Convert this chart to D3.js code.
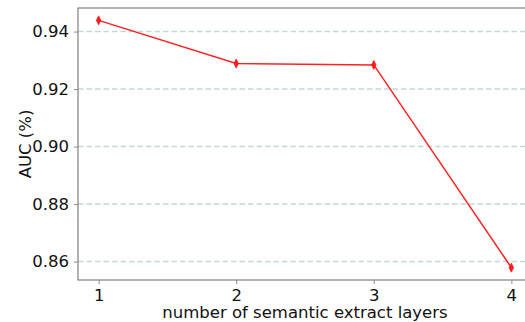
<!DOCTYPE html>
<html>
<head>
<meta charset="utf-8">
<script src="https://cdn.jsdelivr.net/npm/d3@7"></script>
<style>
  html, body { margin: 0; padding: 0; background: #fff; }
  svg { display: block; font-family: "DejaVu Sans", sans-serif; }
</style>
</head>
<body>
<svg id="chart" width="525" height="322"></svg>
<script>
// Number of semantic extraction layers vs. AUC
const layers = [1, 2, 3, 4];
const auc = [0.9439, 0.9289, 0.9284, 0.8579];
const yTicks = [0.86, 0.88, 0.90, 0.92, 0.94];
const xTicks = [1, 2, 3, 4];

const svg = d3.select("#chart");
const plot = { left: 78, top: 8, right: 532, bottom: 280 };

const x = d3.scaleLinear().domain([0.85, 4.15]).range([plot.left, plot.right]);
const y = d3.scaleLinear().domain([0.8536, 0.9482]).range([plot.bottom, plot.top]);

const axisColor = "#8a8a8a";
const textColor = "#111";

// horizontal dashed grid
svg.append("g")
  .selectAll("line")
  .data(yTicks)
  .join("line")
  .attr("x1", plot.left).attr("x2", plot.right)
  .attr("y1", d => y(d)).attr("y2", d => y(d))
  .attr("stroke", "#c8d8d8")
  .attr("stroke-width", 1.5)
  .attr("stroke-dasharray", "5.5,3");

// frame
svg.append("rect")
  .attr("x", plot.left).attr("y", plot.top)
  .attr("width", plot.right - plot.left).attr("height", plot.bottom - plot.top)
  .attr("fill", "none").attr("stroke", axisColor).attr("stroke-width", 1.3);

// axes
const xAxis = svg.append("g")
  .attr("transform", `translate(0,${plot.bottom})`)
  .call(d3.axisBottom(x).tickValues(xTicks).tickFormat(d3.format("d")).tickSizeOuter(0).tickSize(4).tickPadding(5));
const yAxis = svg.append("g")
  .attr("transform", `translate(${plot.left},0)`)
  .call(d3.axisLeft(y).tickValues(yTicks).tickFormat(d3.format(".2f")).tickSizeOuter(0).tickSize(4).tickPadding(5));

[xAxis, yAxis].forEach(g => {
  g.select(".domain").remove();
  g.selectAll(".tick line").attr("stroke", axisColor).attr("stroke-width", 1);
  g.selectAll(".tick text")
    .attr("fill", textColor)
    .style("font-size", "16.5px")
    .style("font-family", "DejaVu Sans, sans-serif");
});

// axis titles
svg.append("text")
  .attr("x", 305)
  .attr("y", 318)
  .attr("text-anchor", "middle")
  .attr("fill", textColor)
  .style("font-size", "16.5px")
  .text("number of semantic extract layers");

svg.append("text")
  .attr("transform", `translate(31,${(plot.top + plot.bottom) / 2}) rotate(-90)`)
  .attr("text-anchor", "middle")
  .attr("fill", textColor)
  .style("font-size", "16.5px")
  .text("AUC (%)");

// line + diamond markers
const pts = layers.map((l, i) => [l, auc[i]]);
svg.append("path")
  .datum(pts)
  .attr("fill", "none")
  .attr("stroke", "#ff2222")
  .attr("stroke-width", 1.5)
  .attr("d", d3.line().x(d => x(d[0])).y(d => y(d[1])));

svg.append("g")
  .selectAll("path")
  .data(pts)
  .join("path")
  .attr("transform", d => `translate(${x(d[0])},${y(d[1])})`)
  .attr("d", "M0,-4.5L2.2,0L0,4.5L-2.2,0Z")
  .attr("fill", "#ff1a1a")
  .attr("stroke", "#ff1a1a")
  .attr("stroke-width", 0.8);
</script>
</body>
</html>
